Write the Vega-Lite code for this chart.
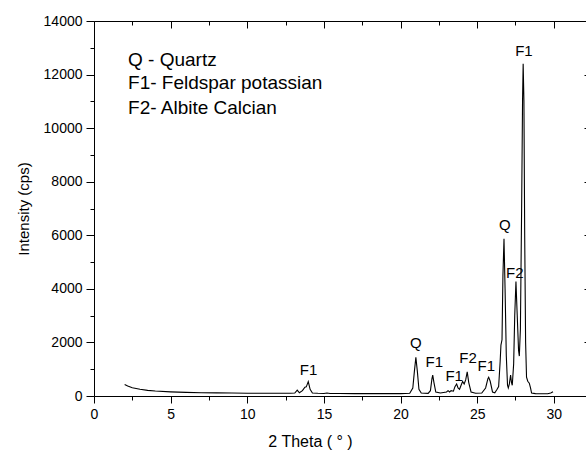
{
  "$schema": "https://vega.github.io/schema/vega-lite/v6.json",
  "autosize": "none",
  "padding": {"left": 94, "top": 21, "right": 0, "bottom": 58},
  "width": 492,
  "height": 375,
  "background": "white",
  "config": {
    "view": {"stroke": null},
    "font": "Liberation Sans",
    "axis": {"grid": false, "domainColor": "black", "tickColor": "black", "labelColor": "black", "titleColor": "black", "labelFont": "Liberation Sans", "titleFont": "Liberation Sans", "titleFontWeight": "normal", "domainWidth": 1, "tickWidth": 1}
  },
  "datasets": {
    "xrd": [
      {"x": 2.0, "y": 430}, {"x": 2.2, "y": 370}, {"x": 2.5, "y": 310}, {"x": 3.0, "y": 250}, {"x": 3.5, "y": 210},
      {"x": 4.0, "y": 185}, {"x": 5.0, "y": 155}, {"x": 6.0, "y": 135}, {"x": 7.0, "y": 122}, {"x": 8.0, "y": 115},
      {"x": 9.0, "y": 110}, {"x": 10.0, "y": 105}, {"x": 11.0, "y": 102}, {"x": 12.0, "y": 100}, {"x": 12.8, "y": 100},
      {"x": 13.1, "y": 110}, {"x": 13.26, "y": 220}, {"x": 13.4, "y": 120}, {"x": 13.6, "y": 200}, {"x": 13.76, "y": 330},
      {"x": 13.85, "y": 340}, {"x": 13.98, "y": 535}, {"x": 14.1, "y": 250}, {"x": 14.25, "y": 110}, {"x": 14.6, "y": 100},
      {"x": 15.0, "y": 95}, {"x": 15.2, "y": 110}, {"x": 15.4, "y": 95}, {"x": 16.0, "y": 95}, {"x": 17.0, "y": 90},
      {"x": 18.0, "y": 88}, {"x": 19.0, "y": 88}, {"x": 20.0, "y": 90}, {"x": 20.6, "y": 100}, {"x": 20.8, "y": 300},
      {"x": 20.9, "y": 900}, {"x": 21.0, "y": 1440}, {"x": 21.1, "y": 900}, {"x": 21.2, "y": 250}, {"x": 21.35, "y": 110},
      {"x": 21.8, "y": 100}, {"x": 21.95, "y": 200}, {"x": 22.05, "y": 650}, {"x": 22.1, "y": 780}, {"x": 22.18, "y": 500},
      {"x": 22.3, "y": 150}, {"x": 22.6, "y": 110}, {"x": 23.0, "y": 150}, {"x": 23.1, "y": 200}, {"x": 23.2, "y": 150},
      {"x": 23.3, "y": 200}, {"x": 23.45, "y": 180}, {"x": 23.55, "y": 350}, {"x": 23.66, "y": 450}, {"x": 23.75, "y": 300},
      {"x": 23.85, "y": 250}, {"x": 23.95, "y": 400}, {"x": 24.05, "y": 540}, {"x": 24.15, "y": 450}, {"x": 24.25, "y": 600},
      {"x": 24.35, "y": 900}, {"x": 24.45, "y": 500}, {"x": 24.6, "y": 150}, {"x": 24.9, "y": 100}, {"x": 25.3, "y": 110},
      {"x": 25.55, "y": 300}, {"x": 25.7, "y": 650}, {"x": 25.75, "y": 700}, {"x": 25.85, "y": 550}, {"x": 26.0, "y": 150},
      {"x": 26.15, "y": 120}, {"x": 26.3, "y": 250}, {"x": 26.4, "y": 350}, {"x": 26.5, "y": 1300}, {"x": 26.55, "y": 1900},
      {"x": 26.62, "y": 2100}, {"x": 26.68, "y": 4500}, {"x": 26.75, "y": 5870}, {"x": 26.82, "y": 4000}, {"x": 26.9, "y": 1500},
      {"x": 26.98, "y": 400}, {"x": 27.03, "y": 300}, {"x": 27.1, "y": 450}, {"x": 27.18, "y": 780}, {"x": 27.24, "y": 500},
      {"x": 27.29, "y": 400}, {"x": 27.38, "y": 1200}, {"x": 27.45, "y": 3000}, {"x": 27.53, "y": 4270}, {"x": 27.6, "y": 3200},
      {"x": 27.7, "y": 1700}, {"x": 27.75, "y": 1490}, {"x": 27.82, "y": 2500}, {"x": 27.9, "y": 7000}, {"x": 27.96, "y": 11000},
      {"x": 28.0, "y": 12400}, {"x": 28.05, "y": 11000}, {"x": 28.1, "y": 6000}, {"x": 28.16, "y": 2000}, {"x": 28.22, "y": 700},
      {"x": 28.3, "y": 550}, {"x": 28.4, "y": 480}, {"x": 28.48, "y": 300}, {"x": 28.55, "y": 110}, {"x": 28.8, "y": 90},
      {"x": 29.2, "y": 85}, {"x": 29.6, "y": 85}, {"x": 29.8, "y": 110}, {"x": 29.95, "y": 160}
    ],
    "peaks": [
      {"x": 14.0, "y": 970, "label": "F1"},
      {"x": 21.0, "y": 1980, "label": "Q"},
      {"x": 22.2, "y": 1270, "label": "F1"},
      {"x": 23.5, "y": 760, "label": "F1"},
      {"x": 24.4, "y": 1420, "label": "F2"},
      {"x": 25.6, "y": 1120, "label": "F1"},
      {"x": 26.8, "y": 6380, "label": "Q"},
      {"x": 27.45, "y": 4590, "label": "F2"},
      {"x": 28.05, "y": 12890, "label": "F1"}
    ],
    "legend": [
      {"x": 2.22, "y": 12540, "label": "Q - Quartz"},
      {"x": 2.22, "y": 11685, "label": "F1- Feldspar potassian"},
      {"x": 2.22, "y": 10750, "label": "F2- Albite Calcian"}
    ]
  },
  "layer": [
    {
      "data": {"name": "xrd"},
      "mark": {"type": "line", "color": "black", "strokeWidth": 1.1, "clip": true},
      "encoding": {
        "x": {
          "field": "x", "type": "quantitative",
          "scale": {"domain": [0, 32.1], "nice": false, "zero": false},
          "axis": {
            "orient": "bottom", "title": "2 Theta ( ° )", "titleFontSize": 16, "titlePadding": 12, "titleX": 216,
            "values": [0, 2.5, 5, 7.5, 10, 12.5, 15, 17.5, 20, 22.5, 25, 27.5, 30],
            "labelExpr": "datum.value % 5 === 0 ? datum.label : ''",
            "labelFontSize": 14, "labelPadding": 4, "labelFlush": false, "labelOverlap": false,
            "tickSize": {"condition": {"test": "datum.value % 5 === 0", "value": 7}, "value": 4}
          }
        },
        "y": {
          "field": "y", "type": "quantitative",
          "scale": {"domain": [0, 14000], "nice": false},
          "axis": {
            "orient": "left", "title": "Intensity (cps)", "titleFontSize": 15, "titlePadding": 12,
            "values": [0, 1000, 2000, 3000, 4000, 5000, 6000, 7000, 8000, 9000, 10000, 11000, 12000, 13000, 14000],
            "labelExpr": "datum.value % 2000 === 0 ? datum.label : ''",
            "format": "d", "labelFontSize": 14, "labelPadding": 4, "labelFlush": false, "labelOverlap": false,
            "tickSize": {"condition": {"test": "datum.value % 2000 === 0", "value": 8}, "value": 4}
          }
        }
      }
    },
    {
      "data": {"name": "peaks"},
      "mark": {"type": "text", "fontSize": 15, "align": "center", "baseline": "middle", "color": "black", "font": "Liberation Sans"},
      "encoding": {
        "x": {
          "field": "x", "type": "quantitative",
          "axis": {
            "orient": "top", "title": null, "labels": false,
            "values": [0, 2.5, 5, 7.5, 10, 12.5, 15, 17.5, 20, 22.5, 25, 27.5, 30],
            "tickSize": {"condition": {"test": "datum.value % 5 === 0", "value": -7}, "value": -4}
          }
        },
        "y": {
          "field": "y", "type": "quantitative",
          "axis": {
            "orient": "right", "title": null, "labels": false,
            "values": [0, 2000, 4000, 6000, 8000, 10000, 12000, 14000],
            "tickSize": -2
          }
        },
        "text": {"field": "label"}
      }
    },
    {
      "data": {"name": "legend"},
      "mark": {"type": "text", "fontSize": 19, "align": "left", "baseline": "middle", "color": "black", "font": "Liberation Sans"},
      "encoding": {
        "x": {"field": "x", "type": "quantitative", "axis": null},
        "y": {"field": "y", "type": "quantitative", "axis": null},
        "text": {"field": "label"}
      }
    }
  ]
}
